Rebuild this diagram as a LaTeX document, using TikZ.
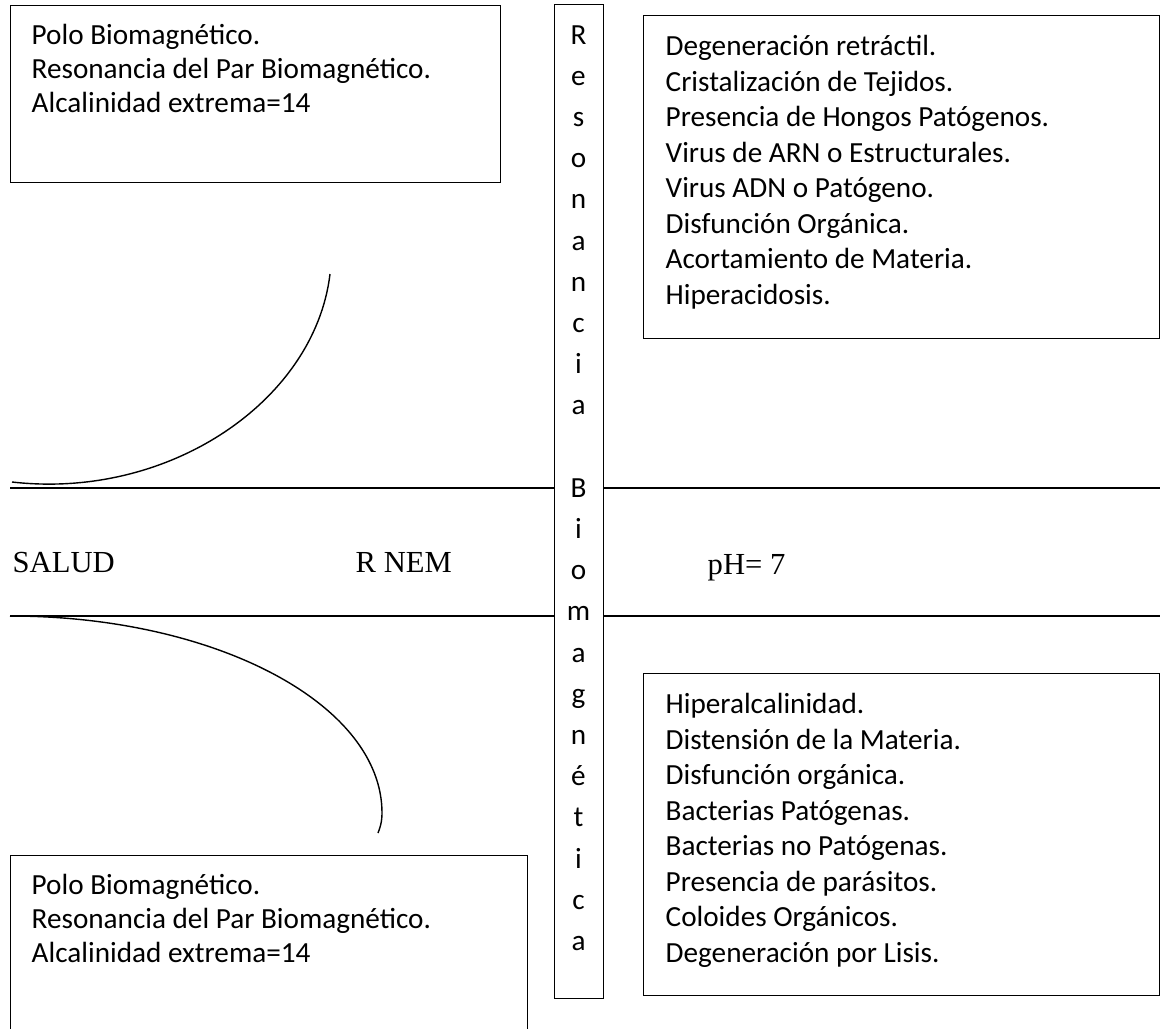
\documentclass[tikz,border=0pt]{standalone}
\usepackage{fontspec}
\setmainfont{Carlito}
\newfontfamily\tnr{Liberation Serif}
\usepackage{tikz}
\usetikzlibrary{positioning, calc}

\begin{document}
\begin{tikzpicture}[x=0.5pt, y=-0.5pt, line width=0.7pt,
  caja/.style={draw, inner sep=0pt, anchor=north west},
  lista/.style={align=left, inner sep=0pt, anchor=north west, font=\fontsize{14.6}{#1}\selectfont},
  letra/.style={inner sep=0pt, anchor=base, font=\fontsize{14.6}{17}\selectfont},
  eje/.style={inner sep=0pt, anchor=base west, font=\tnr\fontsize{15.3}{18}\selectfont}]
  \useasboundingbox (0,0) rectangle (1160,1028);
  % cajas
  \node[caja, minimum width=245pt, minimum height=88.5pt] (polosup) at (10,5) {};
  \node[caja, minimum width=258pt, minimum height=161.5pt] (acido) at (643,15) {};
  \node[caja, minimum width=258pt, minimum height=161pt] (alcalino) at (643,673) {};
  \node[caja, minimum width=258.5pt, minimum height=95pt] (poloinf) at (10,855) {};
  \node[caja, minimum width=24.5pt, minimum height=497pt] (rbm) at (554,4) {};
  \node[lista=17pt] (polosuptxt) at (31,20.4) {\strut Polo Biomagnético.\\Resonancia del Par Biomagnético.\\Alcalinidad extrema=14};
  \node[lista=17.75pt] (acidotxt) at (665,30.4) {\strut Degeneración retráctil.\\Cristalización de Tejidos.\\Presencia de Hongos Patógenos.\\Virus de ARN o Estructurales.\\Virus ADN o Patógeno.\\Disfunción Orgánica.\\Acortamiento de Materia.\\Hiperacidosis.};
  \node[lista=17.75pt] (alcalinotxt) at (665,688.4) {\strut Hiperalcalinidad.\\Distensión de la Materia.\\Disfunción orgánica.\\Bacterias Patógenas.\\Bacterias no Patógenas.\\Presencia de parásitos.\\Coloides Orgánicos.\\Degeneración por Lisis.};
  \node[lista=17pt] (poloinftxt) at (31,870.4) {\strut Polo Biomagnético.\\Resonancia del Par Biomagnético.\\Alcalinidad extrema=14};
  % texto vertical
  \foreach \ch [count=\k from 0] in {R,e,s,o,n,a,n,c,i,a}
    \node[letra] (res\k) at (578.5, 44+41.2*\k) {\ch};
  \foreach \ch [count=\k from 11] in {B,i,o,m,a,g,n,é,t,i,c,a}
    \node[letra] (bio\k) at (578.5, 44+41.2*\k) {\ch};
  % franja central
  \coordinate (a1) at (10,488);
  \coordinate (a2) at (1160,488);
  \coordinate (b1) at (10,616);
  \coordinate (b2) at (1160,616);
  \draw (a1) -- (a1 -| rbm.west);
  \draw (a2 -| rbm.east) -- (a2);
  \draw (b1) -- (b1 -| rbm.west);
  \draw (b2 -| rbm.east) -- (b2);
  \node[eje] (salud) at (12,572) {SALUD};
  \node[eje] (rnem) at (355,572) {R NEM};
  \node[eje] (ph) at (707,574) {pH= 7};
  % curvas
  \coordinate (c1) at (12,482);
  \coordinate (c2) at (330,274);
  \coordinate (d2) at (382,813);
  \coordinate (d3) at (378,833);
  \draw (c1) .. controls (170,500) and (315,400) .. (c2);
  \draw (b1) .. controls (215,616) and (382,704) .. (d2) .. controls (382,822) and (380,828) .. (d3);
\end{tikzpicture}
\end{document}
